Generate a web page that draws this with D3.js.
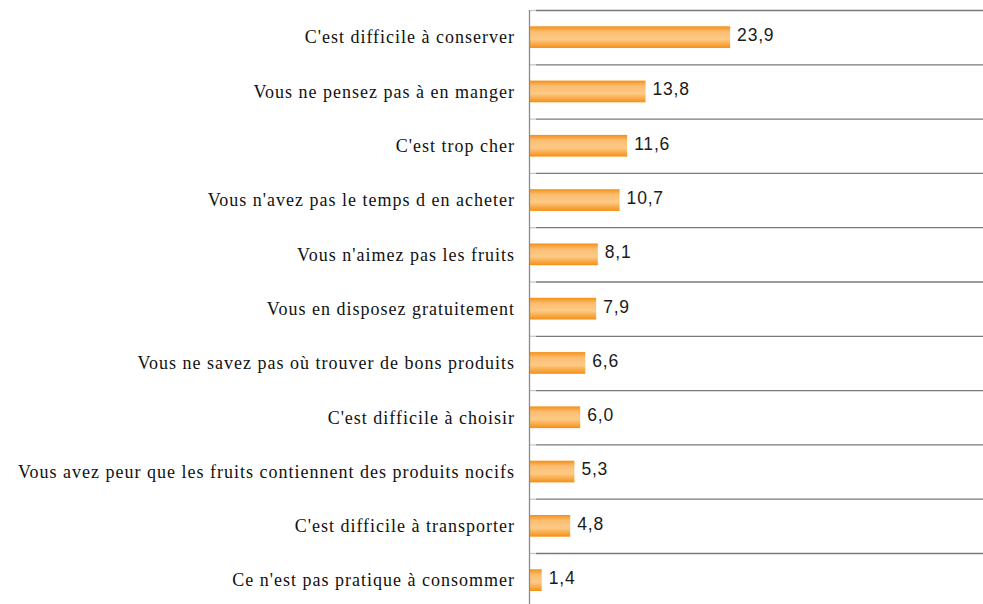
<!DOCTYPE html>
<html>
<head>
<meta charset="utf-8">
<script src="https://cdn.jsdelivr.net/npm/d3@7"></script>
<style>
  body { margin: 0; background: #fff; }
</style>
</head>
<body>
<div id="chart"></div>
<script>
// categories and values, top to bottom
var categories = [
  "C'est difficile à conserver",
  "Vous ne pensez pas à en manger",
  "C'est trop cher",
  "Vous n'avez pas le temps d en acheter",
  "Vous n'aimez pas les fruits",
  "Vous en disposez gratuitement",
  "Vous ne savez pas où trouver de bons produits",
  "C'est difficile à choisir",
  "Vous avez peur que les fruits contiennent des produits nocifs",
  "C'est difficile à transporter",
  "Ce n'est pas pratique à consommer"
];
var values = [23.9, 13.8, 11.6, 10.7, 8.1, 7.9, 6.6, 6.0, 5.3, 4.8, 1.4];

var width = 983, height = 604;
var margin = {top: 10, left: 530};
var bandH = 54.3;

var svg = d3.select("#chart").append("svg")
    .attr("width", width)
    .attr("height", height);

// gradient for the bars
var grad = svg.append("defs").append("linearGradient")
    .attr("id", "barGrad")
    .attr("x1", 0).attr("y1", 0).attr("x2", 0).attr("y2", 1);
grad.append("stop").attr("offset", "0%").attr("stop-color", "#f58f14");
grad.append("stop").attr("offset", "25%").attr("stop-color", "#fbbd72");
grad.append("stop").attr("offset", "60%").attr("stop-color", "#fdca86");
grad.append("stop").attr("offset", "100%").attr("stop-color", "#f58f14");

var x = d3.scaleLinear().domain([0, 54.1]).range([margin.left, width]);
var y = d3.scaleBand()
    .domain(categories)
    .range([margin.top, margin.top + bandH * categories.length])
    .paddingInner(0.6)
    .paddingOuter(0.3);

// gridlines between categories
svg.append("g").selectAll("line")
    .data(d3.range(categories.length))
    .join("line")
    .attr("x1", margin.left + 6)
    .attr("x2", width)
    .attr("y1", function(i) { return margin.top + i * bandH + 0.5; })
    .attr("y2", function(i) { return margin.top + i * bandH + 0.5; })
    .attr("stroke", "#7a7a7a")
    .attr("stroke-width", 1.3);

// small ticks on the axis
svg.append("g").selectAll("line")
    .data(d3.range(categories.length))
    .join("line")
    .attr("x1", margin.left)
    .attr("x2", margin.left + 6)
    .attr("y1", function(i) { return margin.top + i * bandH + 0.5; })
    .attr("y2", function(i) { return margin.top + i * bandH + 0.5; })
    .attr("stroke", "#c8c8c8")
    .attr("stroke-width", 1.3);

// bars
svg.append("g").selectAll("rect")
    .data(values)
    .join("rect")
    .attr("x", x(0))
    .attr("y", function(d, i) { return y(categories[i]); })
    .attr("width", function(d) { return x(d) - x(0); })
    .attr("height", y.bandwidth())
    .attr("fill", "url(#barGrad)");

// value labels
svg.append("g").selectAll("text")
    .data(values)
    .join("text")
    .attr("x", function(d) { return x(d) + 7; })
    .attr("y", function(d, i) { return y(categories[i]) + y.bandwidth() / 2; })
    .attr("dy", "0.22em")
    .style("font-family", "'Liberation Sans', Arial, sans-serif")
    .style("font-size", "17.5px")
    .style("letter-spacing", "0.8px")
    .style("fill", "#1a1a1a")
    .text(function(d) { return d.toFixed(1).replace(".", ","); });

// category labels
svg.append("g").selectAll("text")
    .data(categories)
    .join("text")
    .attr("x", 515)
    .attr("y", function(d) { return y(d) + y.bandwidth() / 2; })
    .attr("dy", "0.35em")
    .attr("text-anchor", "end")
    .style("font-family", "'Liberation Serif', 'Times New Roman', serif")
    .style("font-size", "18px")
    .style("letter-spacing", "1px")
    .style("fill", "#111")
    .text(function(d) { return d; });

// vertical axis
svg.append("line")
    .attr("x1", margin.left - 0.5)
    .attr("x2", margin.left - 0.5)
    .attr("y1", margin.top)
    .attr("y2", height)
    .attr("stroke", "#8a8a8a")
    .attr("stroke-width", 1.3);
</script>
</body>
</html>
